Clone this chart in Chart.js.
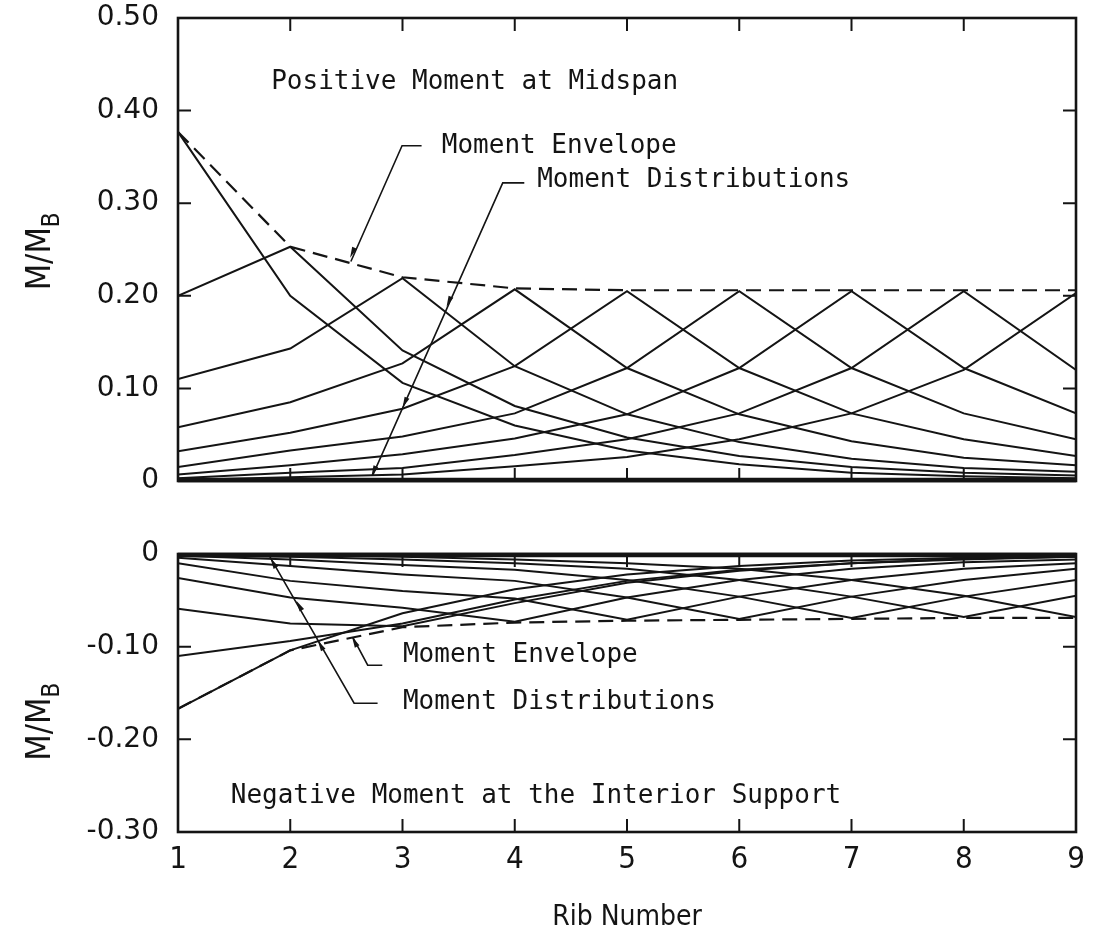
<!DOCTYPE html>
<html>
<head>
<meta charset="utf-8">
<title>Moment distributions across ribs</title>
<script src="https://cdn.jsdelivr.net/npm/chart.js@4.4.1/dist/chart.umd.min.js"></script>
<style>
  html, body { margin: 0; padding: 0; background: #fff; }
  #wrap { position: relative; width: 1109px; height: 945px; overflow: hidden; }
  canvas { position: absolute; left: 0; }
  #posChart { top: 0; }
  #negChart { top: 520px; }
</style>
</head>
<body>
<div id="wrap">
  <canvas id="posChart" width="1109" height="520"></canvas>
  <canvas id="negChart" width="1109" height="425"></canvas>
</div>
<script>
// rib numbers along the horizontal axis
const ribs = [1, 2, 3, 4, 5, 6, 7, 8, 9];

// positive moment at midspan, M/MB, one distribution per loaded rib
const pos1 = [0.377, 0.200, 0.106, 0.060, 0.033, 0.018, 0.009, 0.005, 0.003];
const pos2 = [0.200, 0.253, 0.141, 0.081, 0.047, 0.027, 0.015, 0.009, 0.006];
const pos3 = [0.110, 0.143, 0.219, 0.124, 0.072, 0.042, 0.024, 0.014, 0.010];
const pos4 = [0.058, 0.085, 0.127, 0.207, 0.122, 0.072, 0.043, 0.025, 0.017];
const pos5 = [0.032, 0.052, 0.078, 0.124, 0.205, 0.122, 0.073, 0.045, 0.027];
const pos6 = [0.015, 0.033, 0.048, 0.073, 0.122, 0.205, 0.122, 0.073, 0.045];
const pos7 = [0.007, 0.017, 0.029, 0.046, 0.072, 0.122, 0.205, 0.122, 0.073];
const pos8 = [0.003, 0.009, 0.014, 0.028, 0.045, 0.073, 0.122, 0.205, 0.120];
const pos9 = [0.001, 0.004, 0.007, 0.016, 0.026, 0.045, 0.073, 0.120, 0.203];
const posEnvelope = [0.377, 0.253, 0.220, 0.208, 0.206, 0.206, 0.206, 0.206, 0.206];

// negative moment at the interior support
const neg1 = [-0.167, -0.104, -0.064, -0.038, -0.022, -0.013, -0.007, -0.004, -0.002];
const neg2 = [-0.110, -0.094, -0.075, -0.049, -0.029, -0.017, -0.010, -0.005, -0.003];
const neg3 = [-0.059, -0.075, -0.078, -0.053, -0.031, -0.018, -0.010, -0.006, -0.003];
const neg4 = [-0.026, -0.047, -0.058, -0.073, -0.047, -0.028, -0.016, -0.009, -0.006];
const neg5 = [-0.010, -0.029, -0.040, -0.048, -0.071, -0.046, -0.028, -0.016, -0.010];
const neg6 = [-0.004, -0.013, -0.022, -0.029, -0.047, -0.070, -0.046, -0.028, -0.016];
const neg7 = [-0.002, -0.006, -0.012, -0.017, -0.028, -0.046, -0.069, -0.046, -0.028];
const neg8 = [-0.001, -0.003, -0.006, -0.010, -0.016, -0.028, -0.046, -0.068, -0.045];
const neg9 = [0.000, -0.001, -0.003, -0.006, -0.010, -0.016, -0.028, -0.045, -0.068];
const negEnvelope = [-0.167, -0.104, -0.079, -0.074, -0.072, -0.071, -0.070, -0.069, -0.069];

const posTicks = [0, 0.1, 0.2, 0.3, 0.4, 0.5];
const negTicks = [-0.3, -0.2, -0.1, 0];

const ink = '#141414';
const monoFont = "26px 'DejaVu Sans Mono', monospace";
const numFont = { family: "'DejaVu Sans', sans-serif", size: 28 };
const narrowFamily = "'Liberation Sans Narrow', 'DejaVu Sans Condensed', sans-serif";

// text labels and leader lines, placed in data units
const posNotes = [
  { text: 'Positive Moment at Midspan', x: 1.83, y: 0.423 },
  { text: 'Moment Envelope', x: 3.35, y: 0.354 },
  { text: 'Moment Distributions', x: 4.20, y: 0.3175 }
];
const posLeaders = [
  { path: [[3.17, 0.362], [2.996, 0.362], [2.54, 0.237]], barbs: [[2.555, 0.247]] },
  { path: [[4.085, 0.322], [3.893, 0.322], [2.734, 0.006]], barbs: [[3.414, 0.194], [3.022, 0.085], [2.745, 0.011]] }
];
const negNotes = [
  { text: 'Moment Envelope', x: 3.004, y: -0.117 },
  { text: 'Moment Distributions', x: 3.004, y: -0.167 },
  { text: 'Negative Moment at the Interior Support', x: 1.47, y: -0.269 }
];
const negLeaders = [
  { path: [[2.82, -0.120], [2.69, -0.120], [2.56, -0.0905]], barbs: [[2.575, -0.095]] },
  { path: [[2.778, -0.161], [2.569, -0.161], [1.819, -0.003]], barbs: [[2.081, -0.056], [2.272, -0.099], [1.85, -0.010]] }
];

function seriesSets(series, envelope) {
  const sets = series.map(vals => ({
    data: vals.map((v, i) => ({ x: ribs[i], y: v })),
    borderColor: ink,
    borderWidth: 2,
    pointRadius: 0,
    tension: 0
  }));
  sets.push({
    data: envelope.map((v, i) => ({ x: ribs[i], y: v })),
    borderColor: ink,
    borderWidth: 2.2,
    borderDash: [15, 8],
    pointRadius: 0,
    tension: 0
  });
  return sets;
}

// closed frame with tick marks pointing into the plot;
// the zero edge carries the crowded near-zero curves, so it is drawn heavier
const framePlugin = {
  id: 'frame',
  afterDatasetsDraw(chart, args, opts) {
    const { ctx, chartArea: a, scales: { x, y } } = chart;
    ctx.save();
    ctx.strokeStyle = ink;
    ctx.lineWidth = 2.6;
    ctx.strokeRect(a.left, a.top, a.right - a.left, a.bottom - a.top);
    const zy = y.getPixelForValue(0);
    ctx.lineWidth = 4.5;
    ctx.beginPath();
    ctx.moveTo(a.left, zy + opts.zeroShift);
    ctx.lineTo(a.right, zy + opts.zeroShift);
    ctx.stroke();
    ctx.lineWidth = 2;
    ctx.beginPath();
    x.ticks.forEach(t => {
      if (t.value <= x.min || t.value >= x.max) return;
      const px = x.getPixelForValue(t.value);
      ctx.moveTo(px, a.top);
      ctx.lineTo(px, a.top + opts.len);
      ctx.moveTo(px, a.bottom);
      ctx.lineTo(px, a.bottom - opts.len);
    });
    y.ticks.forEach(t => {
      if (t.value <= y.min + 1e-9 || t.value >= y.max - 1e-9) return;
      const py = y.getPixelForValue(t.value);
      ctx.moveTo(a.left, py);
      ctx.lineTo(a.left + opts.len, py);
      ctx.moveTo(a.right, py);
      ctx.lineTo(a.right - opts.len, py);
    });
    ctx.stroke();
    ctx.restore();
  }
};

// rotated M/MB title beside the value axis
const yTitlePlugin = {
  id: 'yTitle',
  afterDraw(chart, args, opts) {
    const { ctx, scales: { y } } = chart;
    const big = '34px ' + narrowFamily;
    const small = '24px ' + narrowFamily;
    ctx.save();
    ctx.fillStyle = ink;
    ctx.translate(50, y.getPixelForValue(opts.at));
    ctx.rotate(-Math.PI / 2);
    ctx.font = big;
    const w1 = ctx.measureText('M/M').width;
    ctx.font = small;
    const w2 = ctx.measureText('B').width;
    const x0 = -(w1 + w2) / 2;
    ctx.font = big;
    ctx.fillText('M/M', x0, 0);
    ctx.font = small;
    ctx.fillText('B', x0 + w1, 9);
    ctx.restore();
  }
};

// captions and leader lines with small barbs
const notesPlugin = {
  id: 'notes',
  afterDraw(chart, args, opts) {
    const { ctx, scales: { x, y } } = chart;
    const px = p => [x.getPixelForValue(p[0]), y.getPixelForValue(p[1])];
    ctx.save();
    ctx.fillStyle = ink;
    ctx.strokeStyle = ink;
    ctx.font = monoFont;
    ctx.textBaseline = 'alphabetic';
    opts.notes.forEach(n => ctx.fillText(n.text, x.getPixelForValue(n.x), y.getPixelForValue(n.y)));
    ctx.lineWidth = 1.6;
    opts.leaders.forEach(l => {
      const pts = l.path.map(px);
      ctx.beginPath();
      pts.forEach((p, i) => (i ? ctx.lineTo(p[0], p[1]) : ctx.moveTo(p[0], p[1])));
      ctx.stroke();
      const a = pts[pts.length - 2], b = pts[pts.length - 1];
      const len = Math.hypot(b[0] - a[0], b[1] - a[1]);
      const dx = (b[0] - a[0]) / len, dy = (b[1] - a[1]) / len;
      l.barbs.map(px).forEach(p => {
        ctx.beginPath();
        ctx.moveTo(p[0] + dx * 6, p[1] + dy * 6);
        ctx.lineTo(p[0] - dx * 5 - dy * 2.6, p[1] - dy * 5 + dx * 2.6);
        ctx.lineTo(p[0] - dx * 5 + dy * 2.6, p[1] - dy * 5 - dx * 2.6);
        ctx.closePath();
        ctx.fill();
      });
    });
    ctx.restore();
  }
};

function fmt(v) {
  if (Math.abs(v) < 1e-9) return '0';
  return v.toFixed(2);
}

function makeChart(id, sets, yTicks, notes, leaders, opts) {
  return new Chart(document.getElementById(id), {
    type: 'line',
    data: { datasets: sets },
    options: {
      responsive: false,
      animation: false,
      events: [],
      layout: { padding: { top: opts.padTop, right: 33, left: 0, bottom: 0 } },
      plugins: {
        legend: { display: false },
        tooltip: { enabled: false },
        frame: { len: 13, zeroShift: opts.zeroShift },
        yTitle: { at: opts.titleAt },
        notes: { notes, leaders }
      },
      scales: {
        x: {
          type: 'linear',
          min: ribs[0],
          max: ribs[ribs.length - 1],
          grid: { display: false, drawTicks: false },
          border: { display: false },
          ticks: {
            display: opts.showX,
            stepSize: 1,
            padding: 9,
            color: ink,
            font: { family: narrowFamily, size: 31 }
          },
          title: {
            display: opts.showX,
            text: 'Rib Number',
            color: ink,
            font: { family: narrowFamily, size: 28 },
            padding: { top: 0, bottom: 10 }
          },
          afterFit: s => {
            s.height = opts.xHeight;
            s.paddingLeft = 0;
            s.paddingRight = 0;
          }
        },
        y: {
          type: 'linear',
          min: yTicks[0],
          max: yTicks[yTicks.length - 1],
          grid: { display: false, drawTicks: false },
          border: { display: false },
          afterBuildTicks: s => { s.ticks = yTicks.map(v => ({ value: v })); },
          ticks: {
            padding: 19,
            color: ink,
            font: numFont,
            callback: v => fmt(v)
          },
          afterFit: s => {
            s.width = 178;
            s.paddingTop = 0;
            s.paddingBottom = 0;
          }
        }
      }
    },
    plugins: [framePlugin, yTitlePlugin, notesPlugin]
  });
}

makeChart('posChart',
  seriesSets([pos1, pos2, pos3, pos4, pos5, pos6, pos7, pos8, pos9], posEnvelope),
  posTicks, posNotes, posLeaders,
  { padTop: 18, xHeight: 39, showX: false, titleAt: 0.248, zeroShift: -1 });

makeChart('negChart',
  seriesSets([neg1, neg2, neg3, neg4, neg5, neg6, neg7, neg8, neg9], negEnvelope),
  negTicks, negNotes, negLeaders,
  { padTop: 34, xHeight: 113, showX: true, titleAt: -0.181, zeroShift: 1 });
</script>
</body>
</html>
